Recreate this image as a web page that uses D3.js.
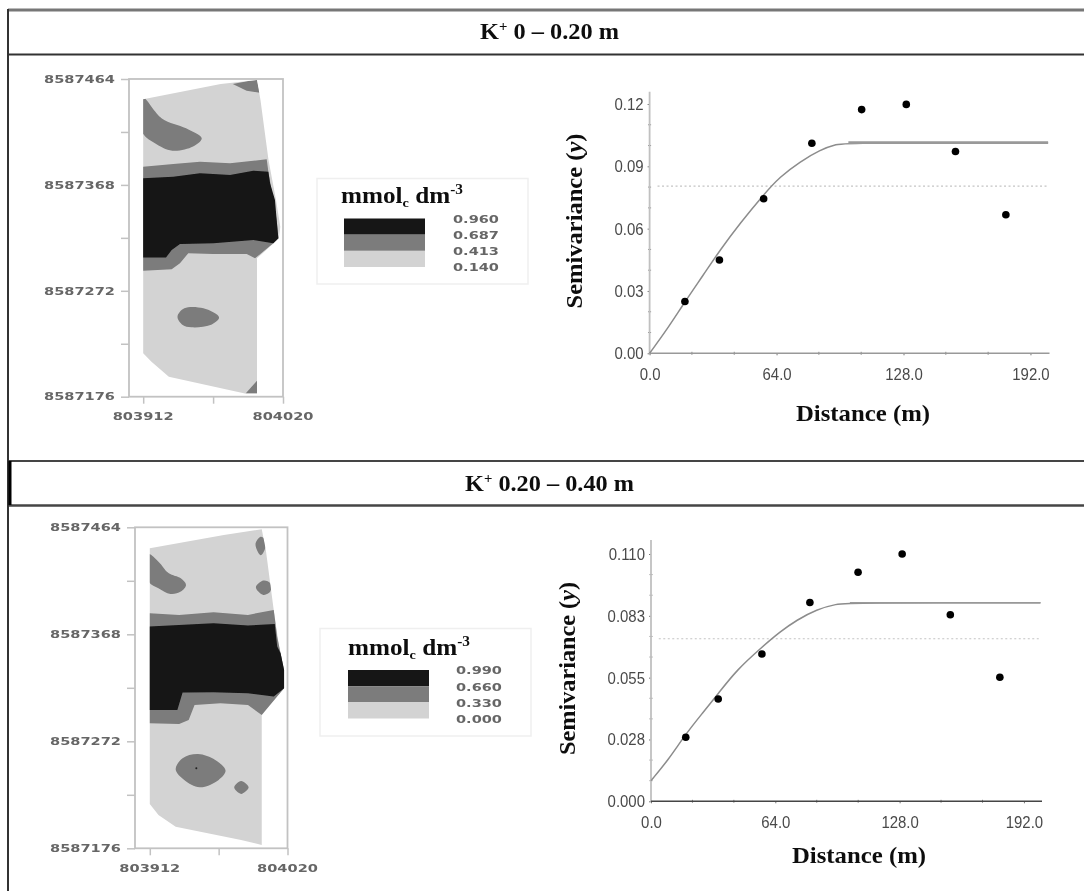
<!DOCTYPE html>
<html>
<head>
<meta charset="utf-8">
<script src="https://cdn.jsdelivr.net/npm/d3@7"></script>
<style>
  body { margin: 0; background: #fff; }
  svg { display: block; }
  .serif { font-family: "Liberation Serif", serif; font-weight: bold; fill: #111; }
  .sans { font-family: "Liberation Sans", sans-serif; }
  .wide { font-family: "DejaVu Sans", sans-serif; fill: #666; font-weight: bold; }
</style>
</head>
<body>
<div id="chart"></div>
<script>
// Map tick labels (UTM), shared by both maps
const eastTicks = [0, 108];
const eastLabels = ["803912", "804020"];
const northTicks = [0, 96, 192, 288];
const northLabels = ["8587176", "8587272", "8587368", "8587464"];

// Contour polygons, metres east / north of the map origin
const fieldTop = [[0,269.6],[59.9,283.5],[87.9,287.1],[90.6,269],[96.8,214.6],[102.6,178.3],[105.9,154.1],[104.8,143.5],[87.9,125.4],[87.9,3],[78.6,3],[19.8,18.1],[6.4,31.7],[0,39.3]];
const midTop = [[0,208.5],[23.3,211],[43.9,213],[67.1,211.6],[95.4,215.2],[96.7,204],[103.1,160.2],[104.4,143.6],[100.5,139.1],[86.4,125.4],[80,129.4],[54.2,129.4],[34.8,130],[28.4,120.9],[22,115.5],[0,114.2]];
const darkTop = [[0,198],[23.3,199.4],[43.9,202.5],[67.1,201],[85.1,204.9],[96.7,204],[98,193.5],[101.8,178.3],[103.1,160.2],[104.4,143.6],[100.5,139.1],[85.1,142],[54.2,139.1],[28.4,138.4],[22,133],[17.6,126.3],[0,126.3]];
const cornersTop = [
  [[69.2,283.5],[81.3,286.2],[87.9,287.1],[90.1,275.6],[79.9,277.4]],
  [[79.1,3],[87.9,14.5],[87.9,3]]
];
const blobsTop = [
  [[-1,272],[14.4,252.3],[33.1,243.3],[45.2,234.2],[38.5,226.7],[22.5,223],[9.1,229.7],[-1,240.2]],
  [[26.5,72.5],[31.8,80.1],[46.5,80.1],[58.6,71.9],[51.9,65],[37.2,62.9],[30.5,65]]
];

const fieldBottom = [[0,269.2],[58.1,281.2],[87.8,286.2],[91,267.7],[97.2,213.9],[101.8,178],[105.3,160],[105.3,143.6],[87.8,121.1],[87.8,3],[71.6,7.5],[20.3,19.4],[6.8,29.9],[0,39.8]];
const midBottom = [[0,210.9],[23,209.4],[50,211.8],[77,209.4],[97.2,213.9],[99.9,189.9],[105.3,160],[105.3,143.6],[87.8,119.6],[77,128.6],[55.4,130.1],[35.1,128.6],[30.5,115.2],[23,111.6],[0,112.2]];
const darkBottom = [[0,198.9],[23,200.4],[50,201.9],[77,199.8],[98,201.3],[99.9,181],[102.6,175],[105.3,160],[105.3,143.6],[97.2,136.1],[77,139.1],[50,140],[25.7,139.7],[21.6,124.1],[0,124.1]];
const cornersBottom = [];
const blobsBottom = [
  [[82.9,273],[87,279.6],[90.5,276.6],[90.5,269.1],[87,262.9]],
  [[83.2,234.2],[89.1,240.2],[94.5,237.8],[94.5,230.3],[89.1,227.3]],
  [[-1,264],[6.8,257.2],[14.9,246.7],[24.3,242.2],[28.4,236.3],[24.3,230.3],[16.2,228.2],[6.8,233.3],[-1,239.3]],
  [[20.3,70.9],[25.7,80.8],[37.8,84.6],[51.3,79.3],[59.4,69.7],[54,61.3],[39.2,54.7],[27,61.3]],
  [[66.2,54.7],[71.6,60.4],[77.5,54.7],[71.6,48.8]]
];

// Legend classes
const legendColors = ["#141414", "#7b7b7b", "#d3d3d3"];
const legendTop = ["0.960", "0.687", "0.413", "0.140"];
const legendBottom = ["0.990", "0.660", "0.330", "0.000"];

// Semivariograms
const distTicks = [0, 64, 128, 192];
const distLabels = ["0.0", "64.0", "128.0", "192.0"];

const lagTop = [17.8, 35.2, 57.5, 81.8, 106.9, 129.4, 154.2, 179.6];
const gammaTop = [0.0249, 0.0449, 0.0744, 0.1011, 0.1173, 0.1198, 0.0971, 0.0667];
const modelXTop = [0, 8.6, 17.8, 27.1, 35.5, 45.6, 57.3, 65.7, 75.8, 85.9, 94.3, 100.2, 200.9];
const modelYTop = [0, 0.0112, 0.0248, 0.0377, 0.0497, 0.0626, 0.0762, 0.085, 0.0922, 0.0979, 0.1007, 0.1014, 0.1014];
const varianceTop = 0.0805;
const gammaTicksTop = [0, 0.03, 0.06, 0.09, 0.12];
const gammaLabelsTop = ["0.00", "0.03", "0.06", "0.09", "0.12"];

const lagBottom = [17.9, 34.6, 57.1, 81.8, 106.6, 129.3, 154.1, 179.6];
const gammaBottom = [0.0285, 0.0455, 0.0655, 0.0884, 0.1019, 0.11, 0.083, 0.0552];
const modelXBottom = [0, 8.9, 17.5, 26.1, 34.7, 44.1, 57, 66.4, 75, 85.3, 95.6, 102.4, 200.5];
const modelYBottom = [0.0092, 0.0184, 0.0295, 0.0388, 0.048, 0.0584, 0.0685, 0.0754, 0.0806, 0.0854, 0.0878, 0.0883, 0.0883];
const varianceBottom = 0.0723;
const gammaTicksBottom = [0, 0.0275, 0.055, 0.0825, 0.11];
const gammaLabelsBottom = ["0.000", "0.028", "0.055", "0.083", "0.110"];

const width = 1084, height = 891;

const svg = d3.select("#chart").append("svg")
  .attr("width", width)
  .attr("height", height);

const defs = svg.append("defs");

// The reference is a soft, rescaled bitmap
defs.append("filter")
   .attr("id", "soft")
   .attr("filterUnits", "userSpaceOnUse")
   .attr("x", 0).attr("y", 0)
   .attr("width", width).attr("height", height)
   .append("feGaussianBlur")
   .attr("stdDeviation", 0.6);

const root = svg.append("g").attr("filter", "url(#soft)");

// Table rules
function rule(x1, y1, x2, y2, color, w) {
  root.append("line")
      .attr("x1", x1).attr("y1", y1).attr("x2", x2).attr("y2", y2)
      .attr("stroke", color).attr("stroke-width", w);
}
rule(8, 10, width, 10, "#777", 3);
rule(8, 54.5, width, 54.5, "#333", 2);
rule(8, 461, width, 461, "#444", 2);
rule(8, 505.5, width, 505.5, "#444", 2.4);
rule(8, 9, 8, height, "#333", 2);
rule(10, 461, 10, 505, "#000", 3);

function header(x, y, text, w) {
  const t = root.append("text")
     .attr("class", "serif")
     .attr("x", x).attr("y", y)
     .attr("font-size", 23)
     .attr("textLength", w)
     .attr("lengthAdjust", "spacingAndGlyphs");
  t.append("tspan").text("K");
  t.append("tspan").attr("font-size", 14).attr("dy", -8).text("+");
  t.append("tspan").attr("dy", 8).text(text);
}
header(480, 38.5, " 0 – 0.20 m", 139);
header(465, 490.7, " 0.20 – 0.40 m", 169);

function stretched(g, cls, x, y, text, w, size, anchor) {
  return g.append("text")
     .attr("class", cls)
     .attr("x", x).attr("y", y)
     .attr("dy", "0.36em")
     .attr("font-size", size)
     .attr("text-anchor", anchor)
     .attr("textLength", w)
     .attr("lengthAdjust", "spacingAndGlyphs")
     .text(text);
}

function drawMap(o) {
  const xScale = d3.scaleLinear([0, 108], [o.x0, o.x1]);
  const yScale = d3.scaleLinear([0, 288], [o.yBottom, o.yTop]);
  const g = root.append("g");

  const poly = d3.line().x(d => xScale(d[0])).y(d => yScale(d[1]));
  const blob = d3.line().x(d => xScale(d[0])).y(d => yScale(d[1])).curve(d3.curveCatmullRomClosed);

  // Patches must not spill out of the sampled field
  defs.append("clipPath").attr("id", o.id)
      .append("path").attr("d", poly(o.field) + "Z");

  g.append("path").attr("d", poly(o.field) + "Z").attr("fill", legendColors[2]);
  const patches = g.append("g").attr("clip-path", `url(#${o.id})`);
  patches.selectAll(".corner").data(o.corners).join("path")
   .attr("class", "corner")
   .attr("d", d => poly(d) + "Z")
   .attr("fill", legendColors[1]);
  patches.selectAll(".blob").data(o.blobs).join("path")
   .attr("class", "blob")
   .attr("d", blob)
   .attr("fill", legendColors[1]);
  g.append("path").attr("d", poly(o.mid) + "Z").attr("fill", legendColors[1]);
  g.append("path").attr("d", poly(o.dark) + "Z").attr("fill", legendColors[0]);

  // Frame
  g.append("rect")
   .attr("x", o.boxLeft).attr("y", o.yTop)
   .attr("width", o.x1 - o.boxLeft).attr("height", o.yBottom - o.yTop)
   .attr("fill", "none").attr("stroke", "#c2c2c2").attr("stroke-width", 1.8);

  // Ticks, majors and the unlabelled ones in between
  const yAxis = d3.axisLeft(yScale)
    .tickValues(d3.range(0, 289, 48))
    .tickSize(8).tickFormat("");
  const xAxis = d3.axisBottom(xScale)
    .tickValues(d3.range(0, 109, 54))
    .tickSize(7).tickFormat("");
  g.append("g").attr("transform", `translate(${o.boxLeft},0)`).call(yAxis)
   .call(a => a.select(".domain").remove())
   .call(a => a.selectAll("line").attr("stroke", "#c2c2c2").attr("stroke-width", 1.5));
  g.append("g").attr("transform", `translate(0,${o.yBottom})`).call(xAxis)
   .call(a => a.select(".domain").remove())
   .call(a => a.selectAll("line").attr("stroke", "#c2c2c2").attr("stroke-width", 1.5));

  northTicks.forEach((v, i) => {
    stretched(g, "wide", o.boxLeft - 14, yScale(v), northLabels[i], 71, 10.5, "end");
  });
  eastTicks.forEach((v, i) => {
    stretched(g, "wide", xScale(v), o.yBottom + 20, eastLabels[i], 61, 10.5, "middle");
  });

  if (o.mark) {
    g.append("circle")
     .attr("cx", xScale(o.mark[0])).attr("cy", yScale(o.mark[1]))
     .attr("r", 1).attr("fill", "#222");
  }
}

function drawLegend(o) {
  const g = root.append("g");
  g.append("rect")
   .attr("x", o.x).attr("y", o.y)
   .attr("width", 211).attr("height", o.h)
   .attr("fill", "#fff").attr("stroke", "#efefef").attr("stroke-width", 1.5);

  const title = g.append("text")
     .attr("class", "serif")
     .attr("x", o.titleX).attr("y", o.titleY)
     .attr("font-size", 23)
     .attr("textLength", 122)
     .attr("lengthAdjust", "spacingAndGlyphs");
  title.append("tspan").text("mmol");
  title.append("tspan").attr("font-size", 13).attr("dy", 4).text("c");
  title.append("tspan").attr("dy", -4).text(" dm");
  title.append("tspan").attr("font-size", 14).attr("dy", -9).text("-3");

  const yScale = d3.scalePoint(o.labels, [o.swatchTop, o.swatchTop + 48.5]);
  const step = yScale.step();
  g.selectAll(".swatch").data(o.labels.slice(0, 3)).join("rect")
   .attr("class", "swatch")
   .attr("x", o.swatchX).attr("y", d => yScale(d))
   .attr("width", 81).attr("height", step)
   .attr("fill", (d, i) => legendColors[i]);
  o.labels.forEach(d => {
    stretched(g, "wide", o.labelX, yScale(d) + 0.6, d, 46, 10.5, "start");
  });
}

function drawVariogram(o) {
  const xScale = d3.scaleLinear([0, o.xMax], [o.x0, o.x1]);
  const yScale = d3.scaleLinear([0, o.yTickMax], [o.y0, o.yTicked]);
  const g = root.append("g");

  // Minor ticks: two between each labelled pair
  const minorY = d3.range(0, o.gammaTicks.length - 1)
    .flatMap(i => [1, 2].map(k => o.gammaTicks[i] + k * (o.gammaTicks[i + 1] - o.gammaTicks[i]) / 3));
  const minorX = d3.range(0, distTicks.length - 1)
    .flatMap(i => [1, 2].map(k => distTicks[i] + k * (distTicks[i + 1] - distTicks[i]) / 3));

  const yAxis = d3.axisLeft(yScale).tickValues(o.gammaTicks)
    .tickSize(2).tickPadding(4)
    .tickFormat((d, i) => o.gammaLabels[i]);
  const xAxis = d3.axisBottom(xScale).tickValues(distTicks)
    .tickSize(2).tickPadding(13)
    .tickFormat((d, i) => distLabels[i]);

  const ya = g.append("g").attr("transform", `translate(${o.x0},0)`).call(yAxis);
  const xa = g.append("g").attr("transform", `translate(0,${o.y0})`).call(xAxis);
  [ya, xa].forEach(a => {
    a.select(".domain").remove();
    a.selectAll("line").attr("stroke", "#777");
    // labels are tall and narrow in the reference
    a.selectAll("text")
     .attr("class", "sans")
     .attr("font-size", 17)
     .attr("fill", "#4a4a4a")
     .each(function() {
       d3.select(this)
         .attr("textLength", this.getComputedTextLength() * 0.88)
         .attr("lengthAdjust", "spacingAndGlyphs");
     });
  });

  g.append("g").selectAll("line").data(minorY).join("line")
   .attr("x1", o.x0 - 1.5).attr("x2", o.x0 + 1.5)
   .attr("y1", yScale).attr("y2", yScale)
   .attr("stroke", "#888");
  g.append("g").selectAll("line").data(minorX).join("line")
   .attr("y1", o.y0 - 1.5).attr("y2", o.y0 + 1.5)
   .attr("x1", xScale).attr("x2", xScale)
   .attr("stroke", "#888");

  // Axis lines
  g.append("line")
   .attr("x1", o.x0).attr("x2", o.x0)
   .attr("y1", o.axisTop).attr("y2", o.y0)
   .attr("stroke", "#c0c0c0").attr("stroke-width", 1.8);
  g.append("line")
   .attr("x1", o.x0).attr("x2", o.x1)
   .attr("y1", o.y0).attr("y2", o.y0)
   .attr("stroke", o.baseColor).attr("stroke-width", 1.4);

  // Sample variance
  g.append("line")
   .attr("x1", xScale(4)).attr("x2", xScale(o.xMax - 0.5))
   .attr("y1", yScale(o.variance)).attr("y2", yScale(o.variance))
   .attr("stroke", "#c4c4c4").attr("stroke-width", 1.2)
   .attr("stroke-dasharray", "2,2.5");

  // Fitted model
  const model = d3.zip(o.modelX, o.modelY);
  const line = d3.line().x(d => xScale(d[0])).y(d => yScale(d[1])).curve(d3.curveBasis);
  g.append("path")
   .attr("d", line(model))
   .attr("fill", "none").attr("stroke", "#8c8c8c").attr("stroke-width", 1.5);
  g.append("path")
   .attr("d", line(model.slice(-2)))
   .attr("fill", "none").attr("stroke", "#999").attr("stroke-width", o.sillWidth);

  g.selectAll("circle").data(o.lag).join("circle")
   .attr("cx", d => xScale(d))
   .attr("cy", (d, i) => yScale(o.gamma[i]))
   .attr("r", 3.8)
   .attr("fill", "#000");

  g.append("text")
   .attr("class", "serif")
   .attr("x", o.distLeft).attr("y", o.distBase)
   .attr("font-size", 24)
   .attr("textLength", 134)
   .attr("lengthAdjust", "spacingAndGlyphs")
   .text("Distance (m)");

  const yl = g.append("text")
   .attr("class", "serif")
   .attr("transform", `translate(${o.semiBase},${o.semiBottom}) rotate(-90)`)
   .attr("font-size", 23)
   .attr("textLength", o.semiLength)
   .attr("lengthAdjust", "spacingAndGlyphs");
  yl.append("tspan").text("Semivariance (");
  yl.append("tspan").attr("font-style", "italic").text("y");
  yl.append("tspan").text(")");
}

// K+ 0 - 0.20 m
drawMap({ id: "clip-top", x0: 143.2, x1: 283, boxLeft: 129, yTop: 79, yBottom: 396.7,
          field: fieldTop, mid: midTop, dark: darkTop, corners: cornersTop, blobs: blobsTop });
drawLegend({ x: 317, y: 178.5, h: 105.5, titleX: 341, titleY: 203,
             swatchX: 344, swatchTop: 218.5, labelX: 453, labels: legendTop });
drawVariogram({ x0: 649.6, x1: 1049.5, xMax: 201.6, y0: 353.3, yTicked: 104, yTickMax: 0.12, axisTop: 91.7,
                gammaTicks: gammaTicksTop, gammaLabels: gammaLabelsTop,
                lag: lagTop, gamma: gammaTop, modelX: modelXTop, modelY: modelYTop, variance: varianceTop,
                sillWidth: 2.6, baseColor: "#999",
                distLeft: 796, distBase: 420.7, semiBase: 581.6, semiBottom: 308.5, semiLength: 175 });

// K+ 0.20 - 0.40 m
drawMap({ id: "clip-bottom", x0: 149.8, x1: 287.5, boxLeft: 135, yTop: 527.3, yBottom: 848.3,
          field: fieldBottom, mid: midBottom, dark: darkBottom, corners: cornersBottom, blobs: blobsBottom,
          mark: [36.5, 71.8] });
drawLegend({ x: 320, y: 628.5, h: 107.5, titleX: 348, titleY: 655,
             swatchX: 348, swatchTop: 670, labelX: 456, labels: legendBottom });
drawVariogram({ x0: 651, x1: 1042, xMax: 201.3, y0: 801.3, yTicked: 554, yTickMax: 0.11, axisTop: 540,
                gammaTicks: gammaTicksBottom, gammaLabels: gammaLabelsBottom,
                lag: lagBottom, gamma: gammaBottom, modelX: modelXBottom, modelY: modelYBottom, variance: varianceBottom,
                sillWidth: 1.6, baseColor: "#444",
                distLeft: 792, distBase: 863, semiBase: 574.7, semiBottom: 755, semiLength: 173 });
</script>
</body>
</html>
